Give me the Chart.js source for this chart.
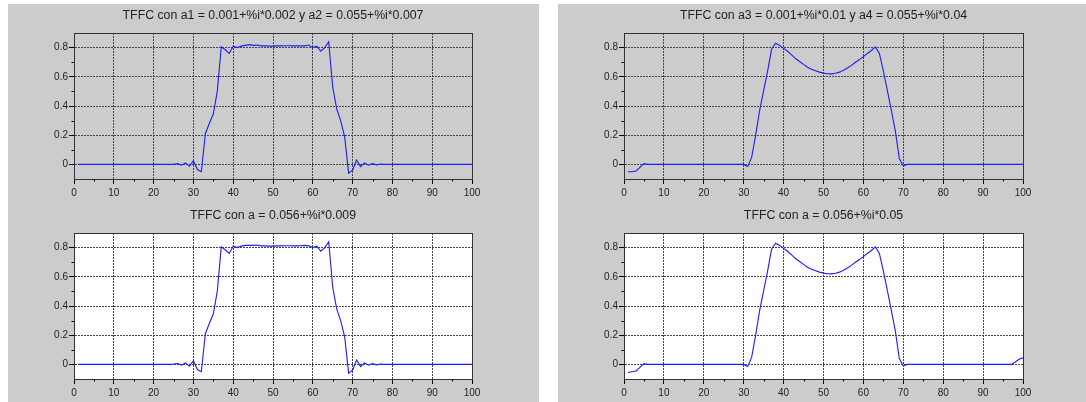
<!DOCTYPE html>
<html>
<head>
<meta charset="utf-8">
<script src="https://cdn.jsdelivr.net/npm/chart.js@4.4.1/dist/chart.umd.min.js"></script>
<style>
  html, body { margin: 0; padding: 0; background: #ffffff; }
  body { width: 1086px; height: 402px; position: relative; overflow: hidden; }
  .fig { position: absolute; top: 4px; height: 398px; background: #cccccc; }
  .fig canvas { position: absolute; left: 0; }
</style>
</head>
<body>
<div class="fig" style="left:8px; width:531px;">
  <canvas id="plotA" width="531" height="196" style="top:0"></canvas>
  <canvas id="plotB" width="531" height="198" style="top:196px"></canvas>
</div>
<div class="fig" style="left:558px; width:528px;">
  <canvas id="plotC" width="528" height="196" style="top:0"></canvas>
  <canvas id="plotD" width="528" height="198" style="top:196px"></canvas>
</div>
<script>
// sample index n = 1..100
const sampleIndex = [
  1, 2, 3, 4, 5, 6, 7, 8, 9, 10,
  11, 12, 13, 14, 15, 16, 17, 18, 19, 20,
  21, 22, 23, 24, 25, 26, 27, 28, 29, 30,
  31, 32, 33, 34, 35, 36, 37, 38, 39, 40,
  41, 42, 43, 44, 45, 46, 47, 48, 49, 50,
  51, 52, 53, 54, 55, 56, 57, 58, 59, 60,
  61, 62, 63, 64, 65, 66, 67, 68, 69, 70,
  71, 72, 73, 74, 75, 76, 77, 78, 79, 80,
  81, 82, 83, 84, 85, 86, 87, 88, 89, 90,
  91, 92, 93, 94, 95, 96, 97, 98, 99, 100
];

// TFFC, a1 = 0.001+%i*0.002, a2 = 0.055+%i*0.007
const tffcA1A2 = [
  0, 0, 0, 0, 0, 0, 0, 0, 0, 0,
  0, 0, 0, 0, 0, 0, 0, 0, 0, 0,
  0, 0, 0, 0, 0, 0.005, -0.005, 0.01, -0.012, 0.025,
  -0.035, -0.05, 0.21, 0.28, 0.345, 0.5, 0.805, 0.785, 0.76, 0.81,
  0.8, 0.81, 0.815, 0.82, 0.815, 0.818, 0.812, 0.812, 0.81, 0.81,
  0.812, 0.812, 0.813, 0.813, 0.812, 0.812, 0.813, 0.812, 0.818, 0.8,
  0.81, 0.775, 0.8, 0.84, 0.53, 0.38, 0.3, 0.19, -0.06, -0.04,
  0.03, -0.015, 0.01, -0.005, 0.005, -0.003, 0.003, 0, 0, 0,
  0, 0, 0, 0, 0, 0, 0, 0, 0, 0,
  0, 0, 0, 0, 0, 0, 0, 0, 0, 0
];

// TFFC, a = 0.056+%i*0.009
const tffcA009 = [
  0, 0, 0, 0, 0, 0, 0, 0, 0, 0,
  0, 0, 0, 0, 0, 0, 0, 0, 0, 0,
  0, 0, 0, 0, 0.002, 0.006, -0.005, 0.01, -0.012, 0.025,
  -0.035, -0.05, 0.21, 0.28, 0.345, 0.5, 0.805, 0.785, 0.76, 0.81,
  0.8, 0.81, 0.815, 0.815, 0.815, 0.818, 0.812, 0.812, 0.81, 0.81,
  0.812, 0.812, 0.813, 0.813, 0.812, 0.812, 0.813, 0.815, 0.812, 0.8,
  0.81, 0.775, 0.8, 0.84, 0.53, 0.38, 0.3, 0.19, -0.06, -0.04,
  0.03, -0.015, 0.01, -0.005, 0.005, -0.003, 0.003, 0, 0, 0,
  0, 0, 0, 0, 0, 0, 0, 0, 0, 0,
  0, 0, 0, 0, 0, 0, 0, 0, 0, 0
];

// TFFC, a3 = 0.001+%i*0.01, a4 = 0.055+%i*0.04
const tffcA3A4 = [
  -0.05, -0.05, -0.045, -0.02, 0.005, 0, 0, 0, 0, 0,
  0, 0, 0, 0, 0, 0, 0, 0, 0, 0,
  0, 0, 0, 0, 0, 0, 0, 0, 0, 0,
  -0.015, 0.05, 0.2, 0.37, 0.505, 0.64, 0.79, 0.83, 0.815, 0.795,
  0.775, 0.75, 0.725, 0.705, 0.685, 0.665, 0.652, 0.642, 0.632, 0.625,
  0.621, 0.62, 0.624, 0.632, 0.645, 0.66, 0.678, 0.7, 0.718, 0.738,
  0.76, 0.78, 0.805, 0.76, 0.64, 0.507, 0.37, 0.23, 0.04, -0.01,
  0, 0, 0, 0, 0, 0, 0, 0, 0, 0,
  0, 0, 0, 0, 0, 0, 0, 0, 0, 0,
  0, 0, 0, 0, 0, 0, 0, 0, 0, 0
];

// TFFC, a = 0.056+%i*0.05
const tffcA05 = [
  -0.055, -0.05, -0.045, -0.02, 0.005, 0, 0, 0, 0, 0,
  0, 0, 0, 0, 0, 0, 0, 0, 0, 0,
  0, 0, 0, 0, 0, 0, 0, 0, 0, 0,
  -0.015, 0.05, 0.2, 0.37, 0.505, 0.64, 0.79, 0.83, 0.815, 0.795,
  0.775, 0.75, 0.725, 0.705, 0.685, 0.665, 0.652, 0.642, 0.632, 0.625,
  0.621, 0.62, 0.624, 0.632, 0.645, 0.66, 0.678, 0.7, 0.718, 0.738,
  0.76, 0.78, 0.805, 0.76, 0.64, 0.507, 0.37, 0.23, 0.04, -0.01,
  0, 0, 0, 0, 0, 0, 0, 0, 0, 0,
  0, 0, 0, 0, 0, 0, 0, 0, 0, 0,
  0, 0, 0, 0, 0, 0, 0.0, 0.015, 0.035, 0.045
];

const yMajorTicks = [0, 0.2, 0.4, 0.6, 0.8];
const yMinorTicks = [0.1, 0.3, 0.5, 0.7];
const xMinorTicks = [5, 15, 25, 35, 45, 55, 65, 75, 85, 95];

const FONT = "'Liberation Sans', Arial, sans-serif";
const TEXT = "#222222";

// frame, minor ticks, white plot area and title, drawn scilab-style
const scilabFrame = {
    id: "scilabFrame",
    beforeDraw(chart, args, opts) {
        if (!opts.fill) return;
        const { ctx, chartArea: a } = chart;
        ctx.save();
        ctx.fillStyle = opts.fill;
        ctx.fillRect(a.left, a.top, a.right - a.left, a.bottom - a.top);
        ctx.restore();
    },
    afterDraw(chart, args, opts) {
        const { ctx, chartArea: a, scales } = chart;
        ctx.save();
        ctx.lineWidth = 1;
        ctx.setLineDash([]);
        ctx.strokeStyle = "#333333";
        ctx.strokeRect(Math.round(a.left) + 0.5, Math.round(a.top) + 0.5,
            Math.round(a.right - a.left), Math.round(a.bottom - a.top));
        ctx.strokeStyle = "#000000";
        ctx.beginPath();
        xMinorTicks.forEach(v => {
            const px = Math.round(scales.x.getPixelForValue(v)) + 0.5;
            ctx.moveTo(px, a.bottom);
            ctx.lineTo(px, a.bottom + 2.5);
        });
        yMinorTicks.forEach(v => {
            const py = Math.round(scales.y.getPixelForValue(v)) + 0.5;
            ctx.moveTo(a.left, py);
            ctx.lineTo(a.left - 2.5, py);
        });
        ctx.stroke();

        ctx.fillStyle = TEXT;
        ctx.font = "12.3px " + FONT;
        ctx.textAlign = "center";
        ctx.textBaseline = "middle";
        ctx.fillText(opts.title, (a.left + a.right) / 2, opts.titleY);
        ctx.restore();
    }
};

function drawPanel(id, values, title, opts) {
    new Chart(document.getElementById(id), {
        type: "line",
        data: {
            datasets: [{
                data: sampleIndex.map((n, i) => ({ x: n, y: values[i] })),
                borderColor: "#1c1cff",
                borderWidth: 1.1,
                pointRadius: 0,
                tension: 0,
                fill: false
            }]
        },
        options: {
            responsive: false,
            animation: false,
            events: [],
            layout: { padding: { left: 0, right: opts.padRight, top: opts.padTop, bottom: 1 } },
            plugins: {
                legend: { display: false },
                tooltip: { enabled: false },
                scilabFrame: { title: title, titleY: opts.titleY, fill: opts.fill }
            },
            scales: {
                x: {
                    type: "linear",
                    min: 0,
                    max: 100,
                    afterFit: s => { s.height = opts.xHeight; },
                    ticks: {
                        stepSize: 10,
                        maxRotation: 0,
                        autoSkip: false,
                        padding: 3,
                        color: TEXT,
                        font: { family: FONT, size: 10 }
                    },
                    grid: { color: "#444444", tickColor: "#000000", tickLength: 5, lineWidth: 1 },
                    border: { display: true, color: "#000000", dash: [2, 1] }
                },
                y: {
                    min: -0.1,
                    max: 0.9,
                    afterFit: s => { s.width = 66; },
                    afterBuildTicks: s => { s.ticks = yMajorTicks.map(v => ({ value: v })); },
                    ticks: {
                        padding: 1,
                        color: TEXT,
                        font: { family: FONT, size: 10 },
                        callback: v => (v === 0 ? "0" : v.toFixed(1))
                    },
                    grid: { color: "#444444", tickColor: "#000000", tickLength: 5, lineWidth: 1 },
                    border: { display: true, color: "#000000", dash: [2, 1] }
                }
            }
        },
        plugins: [scilabFrame]
    });
}

drawPanel("plotA", tffcA1A2, "TFFC con a1 = 0.001+%i*0.002 y a2 = 0.055+%i*0.007",
    { padRight: 67, padTop: 29, xHeight: 20, titleY: 11.5, fill: null });
drawPanel("plotB", tffcA009, "TFFC con a = 0.056+%i*0.009",
    { padRight: 67, padTop: 33, xHeight: 18, titleY: 16, fill: "#ffffff" });
drawPanel("plotC", tffcA3A4, "TFFC con a3 = 0.001+%i*0.01 y a4 = 0.055+%i*0.04",
    { padRight: 63, padTop: 29, xHeight: 20, titleY: 11.5, fill: null });
drawPanel("plotD", tffcA05, "TFFC con a = 0.056+%i*0.05",
    { padRight: 63, padTop: 33, xHeight: 18, titleY: 16, fill: "#ffffff" });
</script>
</body>
</html>
